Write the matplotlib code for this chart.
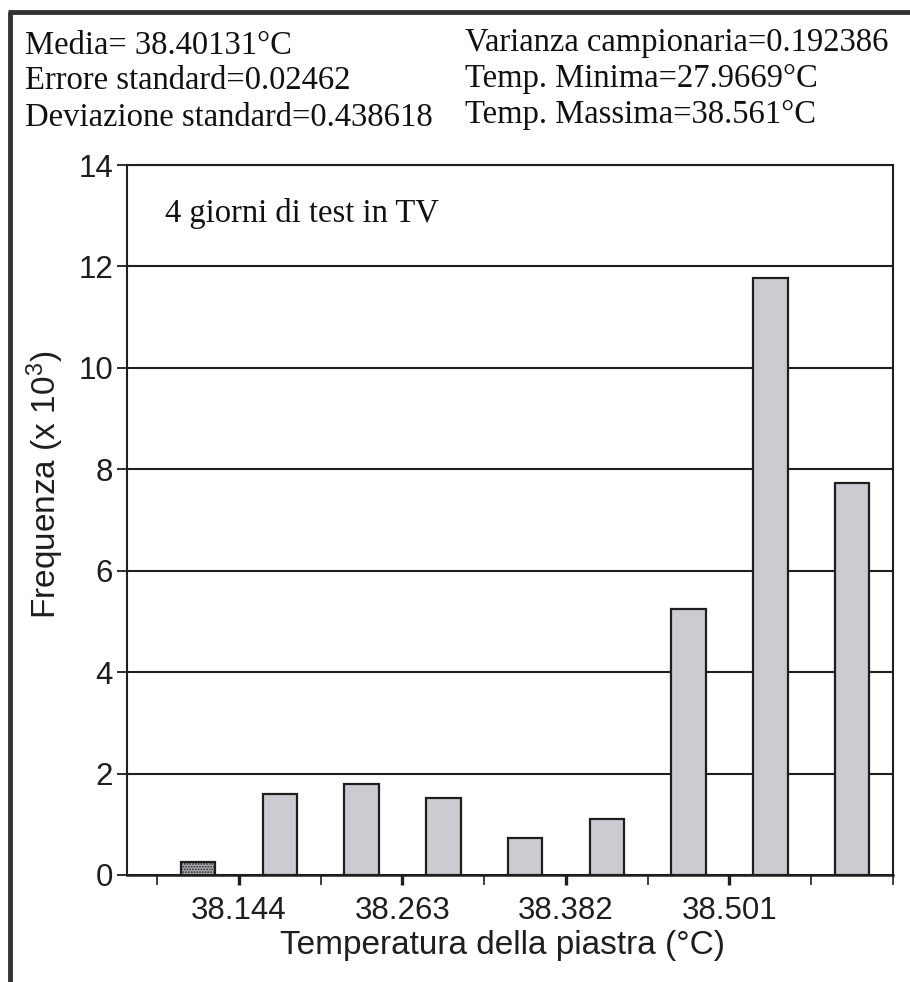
import matplotlib
matplotlib.use("Agg")
import matplotlib.pyplot as plt
from matplotlib.lines import Line2D
from matplotlib.ticker import FixedLocator, NullFormatter

# Histogram of plate temperature: bin edges (deg C) and counts (thousands)
bin_edges = [38.0845, 38.144, 38.2035, 38.263, 38.3225, 38.382,
             38.4415, 38.501, 38.5605, 38.620]
frequenze = [0.25, 1.60, 1.80, 1.52, 0.73, 1.10, 5.25, 11.78, 7.73]
tick_labels = ["38.144", "38.263", "38.382", "38.501"]
y_ticks = [0, 2, 4, 6, 8, 10, 12, 14]

stats_left = ["Media= 38.40131°C",
              "Errore standard=0.02462",
              "Deviazione standard=0.438618"]
stats_right = ["Varianza campionaria=0.192386",
               "Temp. Minima=27.9669°C",
               "Temp. Massima=38.561°C"]

SANS = "Liberation Sans"
SERIF = "Liberation Serif"
INK = "#1e1e1e"

plt.rcParams["mathtext.default"] = "regular"

W, H, DPI = 910, 982, 100
fig = plt.figure(figsize=(W / DPI, H / DPI), dpi=DPI)
fig.patch.set_facecolor("white")

ax = fig.add_axes([127 / W, 1 - 875 / H, (893 - 127) / W, (875 - 165) / H])

centers = [(a + b) / 2 for a, b in zip(bin_edges[:-1], bin_edges[1:])]
step = bin_edges[1] - bin_edges[0]
bar_w = 0.42 * step

bars = ax.bar(centers, frequenze, width=bar_w, color="#cbcbd1",
              edgecolor=INK, linewidth=1.6, zorder=3)
# the first class is drawn stippled
bars[0].set_facecolor("#b9b9bf")
bars[0].set_hatch("......")

ax.set_xlim(bin_edges[0] - 0.37 * step, bin_edges[-1])
ax.set_ylim(0, 14)

# horizontal grid
ax.set_yticks(y_ticks)
ax.yaxis.grid(True, color=INK, linewidth=1.5, zorder=1)
ax.set_axisbelow(True)

# x ticks on every bin edge, labels on alternate ones
major = [bin_edges[i] for i in (1, 3, 5, 7)]
minor = [bin_edges[i] for i in (0, 2, 4, 6, 8, 9)]
ax.xaxis.set_major_locator(FixedLocator(major))
ax.set_xticklabels(tick_labels)
ax.xaxis.set_minor_locator(FixedLocator(minor))
ax.xaxis.set_minor_formatter(NullFormatter())

ax.tick_params(axis="x", which="major", direction="out", length=7,
               width=2.4, color=INK, pad=8, labelsize=22.5, labelcolor=INK)
ax.tick_params(axis="x", which="minor", direction="out", length=7,
               width=1.2, color=INK)
ax.tick_params(axis="y", direction="out", length=7, width=1.3, color=INK,
               pad=3, labelsize=22.5, labelcolor=INK)
for lab in ax.get_xticklabels() + ax.get_yticklabels():
    lab.set_family(SANS)

for side in ("left", "right", "bottom", "top"):
    ax.spines[side].set_color(INK)
    ax.spines[side].set_linewidth(1.5)
ax.spines["bottom"].set_linewidth(1.8)

ax.set_xlabel("Temperatura della piastra (°C)", family=SANS, fontsize=24,
              color=INK, labelpad=2)
ax.xaxis.set_label_coords(0.490, -0.078)
ax.set_ylabel("Frequenza (x 10$^3$)", family=SANS, fontsize=24, color=INK)
ax.yaxis.set_label_coords(-0.080, 0.55)

ax.text(0.050, 0.932, "4 giorni di test in TV", transform=ax.transAxes,
        family=SERIF, fontsize=23.5, color="#111111", va="center",
        ha="left")

# statistics block above the plot
for txt, y in zip(stats_left, [46, 81, 118]):
    fig.text(25 / W, 1 - y / H, txt, family=SERIF, fontsize=23.5,
             color="#111111", va="center", ha="left")
for txt, y in zip(stats_right, [43, 79, 115]):
    fig.text(465 / W, 1 - y / H, txt, family=SERIF, fontsize=23.5,
             color="#111111", va="center", ha="left")

# frame around the figure (top and left edges)
fig.add_artist(Line2D([8 / W, 1.0], [1 - 12 / H, 1 - 12 / H],
                      transform=fig.transFigure, color="#333333",
                      linewidth=3.5, solid_capstyle="butt"))
fig.add_artist(Line2D([10 / W, 10 / W], [0.0, 1 - 12 / H],
                      transform=fig.transFigure, color="#333333",
                      linewidth=3.5, solid_capstyle="butt"))

fig.savefig("out.png", dpi=DPI, facecolor="white")
